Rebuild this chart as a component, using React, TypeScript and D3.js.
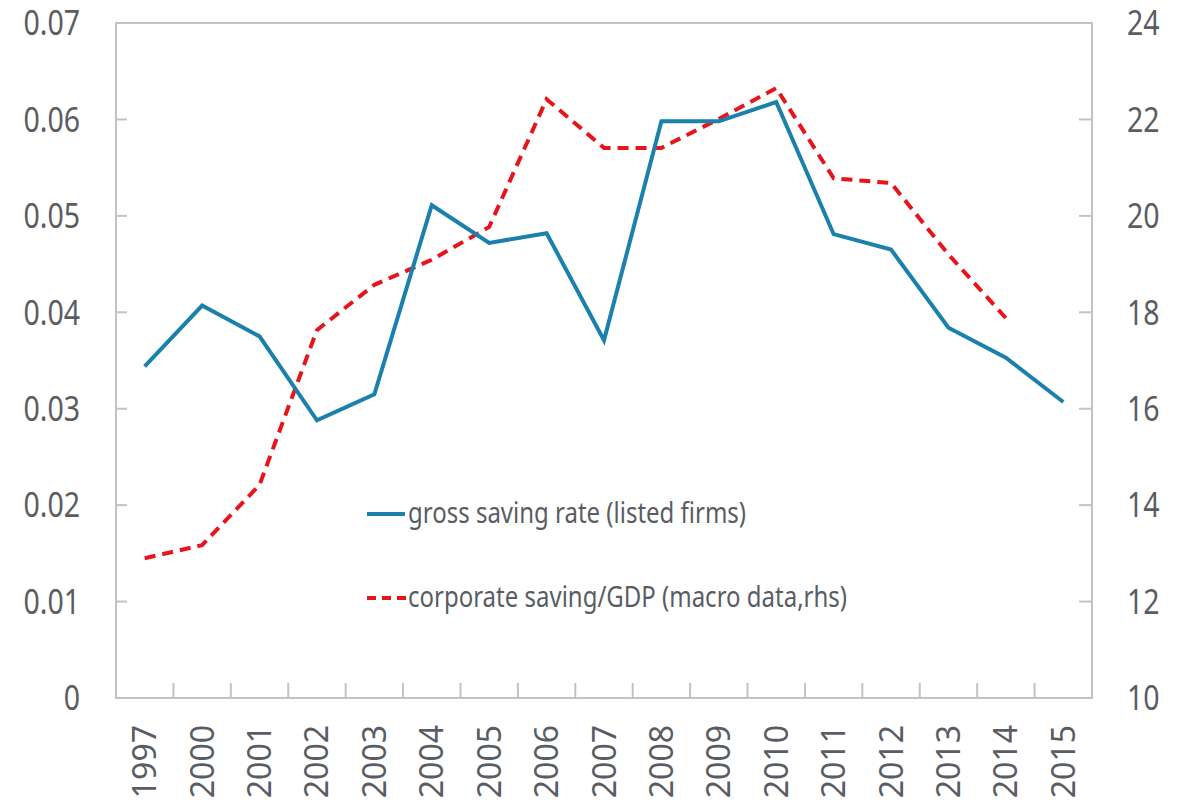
import React from "react";
import * as d3 from "d3";

const years = ["1997","2000","2001","2002","2003","2004","2005","2006","2007","2008","2009","2010","2011","2012","2013","2014","2015"];
const grossSaving = [0.0344,0.0407,0.0375,0.0288,0.0315,0.0511,0.0472,0.0482,0.0371,0.0598,0.0598,0.0618,0.0481,0.0465,0.0384,0.0353,0.0307];
const corpSavingGDP: (number|null)[] = [12.9,13.17,14.42,17.63,18.57,19.09,19.77,22.42,21.41,21.41,22.01,22.65,20.78,20.68,19.2,17.88,null];
const leftTicks = [0,0.01,0.02,0.03,0.04,0.05,0.06,0.07];
const rightTicks = [10,12,14,16,18,20,22,24];
const legendLabels = ["gross saving rate (listed firms)","corporate saving/GDP (macro data,rhs)"];

const W = 1186, H = 808;
const L = 116, R = 1092, T = 23, B = 698;
const FONT = "'Noto Sans', 'Open Sans', sans-serif";
const TXT = "#595d63";
const AX = "#c3c3c3";

export default function App() {
  const x = d3.scaleBand<string>().domain(years).range([L, R]);
  const yL = d3.scaleLinear().domain([0, 0.07]).range([B, T]);
  const yR = d3.scaleLinear().domain([10, 24]).range([B, T]);
  const cx = (d: string) => (x(d) as number) + x.bandwidth() / 2;

  const blueLine = d3.line<number>().x((_, i) => cx(years[i])).y(d => yL(d))(grossSaving) || "";
  const redLine = d3.line<number | null>()
    .defined(d => d !== null)
    .x((_, i) => cx(years[i]))
    .y(d => yR(d as number))(corpSavingGDP) || "";

  const boundaries = years.slice(1).map(d => x(d) as number);

  return (
    <svg width={W} height={H} style={{ position: "absolute", left: 0, top: 0, background: "#fff" }}>
      <rect x={L} y={T} width={R - L} height={B - T} fill="none" stroke={AX} strokeWidth={2} />
      {boundaries.map((bx, i) => (
        <line key={"bt" + i} x1={bx} x2={bx} y1={B} y2={B - 15} stroke={AX} strokeWidth={2} />
      ))}
      {leftTicks.slice(1, -1).map((t, i) => (
        <line key={"lt" + i} x1={L} x2={L + 11} y1={yL(t)} y2={yL(t)} stroke={AX} strokeWidth={2} />
      ))}
      {rightTicks.slice(1, -1).map((t, i) => (
        <line key={"rt" + i} x1={R} x2={R - 13} y1={yR(t)} y2={yR(t)} stroke={AX} strokeWidth={2} />
      ))}
      {leftTicks.map((t, i) => (
        <text key={"ll" + i} transform={`translate(80,${yL(t)}) scale(1,1.2)`} textAnchor="end" dy="0.36em"
          fontFamily={FONT} fontSize={28.5} fill={TXT}>{t === 0 ? "0" : t.toFixed(2)}</text>
      ))}
      {rightTicks.map((t, i) => (
        <text key={"rl" + i} transform={`translate(1127,${yR(t)}) scale(1,1.2)`} textAnchor="start" dy="0.36em"
          fontFamily={FONT} fontSize={28.5} fill={TXT}>{t}</text>
      ))}
      {years.map((d, i) => (
        <text key={"yl" + i} transform={`translate(${cx(d)},725) rotate(-90)`} textAnchor="end" dy="0.36em"
          fontFamily={FONT} fontSize={32} fill={TXT}>{d}</text>
      ))}
      <path d={redLine} fill="none" stroke="#e8141c" strokeWidth={4} strokeDasharray="11,7" />
      <path d={blueLine} fill="none" stroke="#1a80ac" strokeWidth={4} strokeLinejoin="miter" />
      <line x1={367} x2={405} y1={514} y2={514} stroke="#1a80ac" strokeWidth={4} />
      <line x1={367} x2={407} y1={598} y2={598} stroke="#e8141c" strokeWidth={4} strokeDasharray="9,6" />
      <text transform="translate(408,514) scale(1,1.18)" dy="0.32em" fontFamily={FONT} fontSize={24} fill={TXT}>{legendLabels[0]}</text>
      <text transform="translate(408,598) scale(1,1.18)" dy="0.32em" fontFamily={FONT} fontSize={24} fill={TXT}>{legendLabels[1]}</text>
    </svg>
  );
}
